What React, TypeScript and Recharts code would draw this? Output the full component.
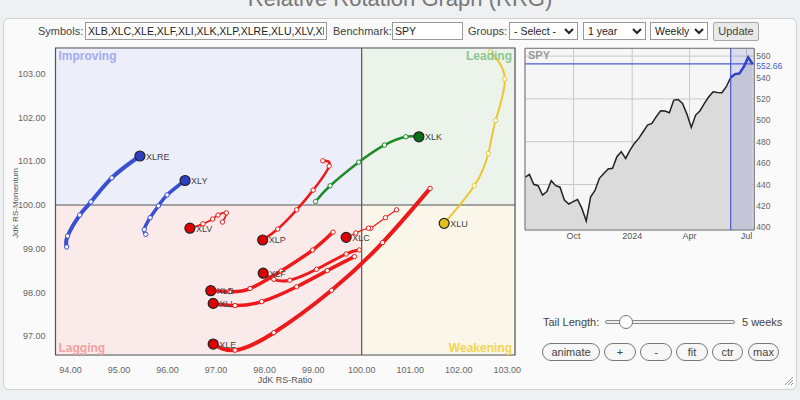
import React from 'react'
import {
  Area,
  CartesianGrid,
  ComposedChart,
  Line,
  ReferenceArea,
  ReferenceLine,
  Scatter,
  ScatterChart,
  XAxis,
  YAxis,
} from 'recharts'

const ratioTicks = [94, 95, 96, 97, 98, 99, 100, 101, 102, 103]
const momentumTicks = [97, 98, 99, 100, 101, 102, 103]

// tails: [RS-Ratio, RS-Momentum], oldest week first, last one is the current week
const xlre = [[93.92, 99.04], [93.94, 99.29], [94.19, 99.77], [94.42, 100.07], [94.85, 100.62], [95.43, 101.12]]
const xly = [[95.55, 99.33], [95.52, 99.44], [95.64, 99.71], [95.81, 99.98], [95.99, 100.23], [96.36, 100.56]]
const xlk = [[99.05, 100.08], [99.35, 100.44], [99.94, 100.98], [100.47, 101.37], [100.91, 101.56], [101.18, 101.56]]
const xlu = [[102.65, 103.5], [102.95, 102.88], [102.76, 101.93], [102.61, 101.18], [102.32, 100.44], [101.7, 99.58]]
const xlc = [[100.72, 99.89], [100.49, 99.71], [100.19, 99.47], [100.14, 99.47], [99.88, 99.36], [99.68, 99.26]]
const xlv = [[97.13, 99.61], [97.21, 99.82], [97.04, 99.77], [96.93, 99.68], [96.73, 99.57], [96.46, 99.47]]
const xlp = [[99.2, 101.01], [99.33, 100.89], [99.0, 100.34], [98.66, 99.89], [98.27, 99.45], [97.96, 99.2]]
const xle = [[101.41, 100.38], [100.43, 99.14], [99.38, 98.05], [98.19, 97.08], [97.39, 96.68], [96.94, 96.82]]
const xli = [[99.85, 98.82], [99.29, 98.5], [98.66, 98.13], [97.94, 97.79], [97.39, 97.7], [96.94, 97.75]]
const xlb = [[99.41, 99.38], [98.99, 98.97], [98.34, 98.49], [97.7, 98.09], [97.28, 98.02], [96.89, 98.04]]
const xlf = [[99.95, 98.97], [99.68, 98.88], [99.07, 98.53], [98.52, 98.28], [98.19, 98.3], [97.97, 98.44]]

const BLUE = { line: '#3a50d4', head: '#2b40c2' }
const GREEN = { line: '#1f8a28', head: '#0d6e14' }
const YELLOW = { line: '#ebc631', head: '#e2c01e' }
const RED = { line: '#ec1a1a', head: '#de0000' }

const sectors = [
  { name: 'XLRE', tail: xlre, c: BLUE, w: 4 },
  { name: 'XLY', tail: xly, c: BLUE, w: 3.5 },
  { name: 'XLK', tail: xlk, c: GREEN, w: 2.5 },
  { name: 'XLU', tail: xlu, c: YELLOW, w: 2 },
  { name: 'XLC', tail: xlc, c: RED, w: 1.2 },
  { name: 'XLV', tail: xlv, c: RED, w: 1.8 },
  { name: 'XLP', tail: xlp, c: RED, w: 2.5 },
  { name: 'XLE', tail: xle, c: RED, w: 4 },
  { name: 'XLI', tail: xli, c: RED, w: 3.5 },
  { name: 'XLB', tail: xlb, c: RED, w: 3.5 },
  { name: 'XLF', tail: xlf, c: RED, w: 3 },
]

// SPY weekly closes, Jul 2023 - Jul 2024
const spyClose = [
  446.7, 449.5, 440.2, 438.9, 430.2, 433.5, 443.6, 438.9, 437.5, 425.5, 421.8, 424.0, 426.0, 417.7,
  405.9, 428.6, 434.5, 445.8, 450.4, 454.5, 455.1, 466.0, 470.7, 464.4, 472.2, 478.4, 483.1, 489.3,
  495.6, 497.1, 503.4, 509.0, 508.7, 507.1, 518.9, 519.5, 515.8, 505.8, 493.4, 504.9, 509.0, 515.8,
  522.0, 526.7, 526.1, 525.8, 531.4, 540.1, 543.2, 543.8, 550.0, 558.8, 552.66,
]
const spyTickIdx = [11.1, 24.5, 37.6, 50.6]
const spyTickLabels = ['Oct', '2024', 'Apr', 'Jul']
const spyPriceTicks = [400, 420, 440, 460, 480, 500, 520, 540, 560]
const tailStart = 47
const lastClose = 552.66

const X_MIN = 93.69
const X_MAX = 103.16
const Y_MIN = 96.57
const Y_MAX = 103.59

function TailDot(props: any) {
  const { cx, cy, payload, color, name } = props
  if (payload.head) {
    return (
      <g>
        <circle cx={cx} cy={cy} r={5} fill={color.head} stroke="#222" strokeWidth={1.2} />
        <text x={cx + 6} y={cy + 3.5} fontSize={9} fill="#444">
          {name}
        </text>
      </g>
    )
  }
  return <circle cx={cx} cy={cy} r={2.2} fill="#fff" stroke={color.line} strokeWidth={1} />
}

const quadLabel = (value: string, fill: string, position: any) => ({
  value,
  position,
  offset: 3,
  fill,
  fontSize: 12,
  fontWeight: 'bold',
})

function RRG() {
  return (
    <ScatterChart width={530} height={400} margin={{ top: 48, right: 15, bottom: 15, left: 15.5 }}>
      <ReferenceArea x1={X_MIN} x2={100} y1={100} y2={Y_MAX} fill="#eceefa" fillOpacity={1}
        label={quadLabel('Improving', '#a3acec', 'insideTopLeft')} />
      <ReferenceArea x1={100} x2={X_MAX} y1={100} y2={Y_MAX} fill="#ebf3ea" fillOpacity={1}
        label={quadLabel('Leading', '#8fc68f', 'insideTopRight')} />
      <ReferenceArea x1={X_MIN} x2={100} y1={Y_MIN} y2={100} fill="#fbeaea" fillOpacity={1}
        label={quadLabel('Lagging', '#f2a0a0', 'insideBottomLeft')} />
      <ReferenceArea x1={100} x2={X_MAX} y1={Y_MIN} y2={100} fill="#faf6ea" fillOpacity={1}
        label={quadLabel('Weakening', '#f3d453', 'insideBottomRight')} />
      <CartesianGrid stroke="#d9d9d9" />
      <XAxis type="number" dataKey="x" domain={[X_MIN, X_MAX]} ticks={ratioTicks} allowDataOverflow
        tickFormatter={(v) => v.toFixed(2)} tick={{ fontSize: 9, fill: '#666' }} tickLine={false}
        axisLine={false} tickSize={0} tickMargin={12} height={30}
        label={{ content: () => <text x={285} y={383} textAnchor="middle" fontSize={9} fill="#555">JdK RS-Ratio</text> }} />
      <YAxis type="number" dataKey="y" domain={[Y_MIN, Y_MAX]} ticks={momentumTicks} allowDataOverflow
        tickFormatter={(v) => v.toFixed(2)} tick={{ fontSize: 9, fill: '#666' }} tickLine={false}
        axisLine={false} tickSize={0} tickMargin={10} width={40}
        label={{ content: () => (
          <text x={15} y={203} transform="rotate(-90 15 203)" textAnchor="middle" dominantBaseline="central" fontSize={8} fill="#555">
            JdK RS-Momentum
          </text>
        ) }} />
      <ReferenceLine x={100} stroke="#555" strokeWidth={1.2} />
      <ReferenceLine y={100} stroke="#555" strokeWidth={1.2} />
      <ReferenceArea x1={X_MIN} x2={X_MAX} y1={Y_MIN} y2={Y_MAX} fill="none" stroke="#555" strokeWidth={1.2} />
      {sectors.map((s) => (
        <Scatter
          key={s.name}
          data={s.tail.map(([x, y], i) => ({ x, y, head: i === s.tail.length - 1 }))}
          line={{ stroke: s.c.line, strokeWidth: s.w }}
          lineJointType="natural"
          shape={(p: any) => <TailDot {...p} color={s.c} name={s.name} />}
          isAnimationActive={false}
        />
      ))}
    </ScatterChart>
  )
}

function SpyChart() {
  const data = spyClose.map((v, i) => ({ i, v, tail: i >= tailStart ? v : null }))
  return (
    <ComposedChart width={285} height={210} data={data} margin={{ top: 8.3, right: 15.7, bottom: 6, left: 10 }}>
      <CartesianGrid stroke="#c9c9c9" fill="#f6f6f6" />
      <XAxis type="number" dataKey="i" domain={[0, 52.4]} ticks={spyTickIdx} allowDataOverflow
        tickFormatter={(v) => spyTickLabels[spyTickIdx.indexOf(v)]} tick={{ fontSize: 9, fill: '#555' }}
        tickLine={false} axisLine={false} tickSize={0} tickMargin={3} height={14} />
      <YAxis orientation="right" type="number" domain={[397.5, 567.3]} ticks={spyPriceTicks} allowDataOverflow
        tick={{ fontSize: 8.5, fill: '#666', textAnchor: 'start' }} tickLine={false} axisLine={false}
        tickSize={0} tickMargin={2} width={30} />
      <Area dataKey="v" stroke="#222" strokeWidth={1.5} fill="#dbdbdb" fillOpacity={1} dot={false}
        isAnimationActive={false} />
      <ReferenceArea x1={tailStart} x2={52.4} y1={397.5} y2={567.3} fill="#3848c0" fillOpacity={0.14} />
      <ReferenceLine x={tailStart} stroke="#4a5ad2" strokeWidth={1.2} />
      <ReferenceLine y={lastClose} stroke="#4a5ad2" strokeWidth={1.2}
        label={{ content: (p: any) => (
          <text x={p.viewBox.x + p.viewBox.width + 2} y={p.viewBox.y + 5} fontSize={8.5} fill="#4a5ad2">
            {lastClose.toFixed(2)}
          </text>
        ) }} />
      <Line dataKey="tail" stroke="#3344cc" strokeWidth={2.5} dot={false} isAnimationActive={false} />
      <ReferenceArea x1={0} x2={52.4} y1={397.5} y2={567.3} fill="none" stroke="#777" strokeWidth={1} />
    </ComposedChart>
  )
}

const label: React.CSSProperties = { position: 'absolute', top: 25, fontSize: 11, color: '#444' }
const box: React.CSSProperties = {
  position: 'absolute', top: 22, height: 18, boxSizing: 'border-box', border: '1px solid #9a9a9a',
  background: '#fff', fontSize: 10.5, fontFamily: 'inherit', padding: '0 2px', color: '#222',
}
const pill: React.CSSProperties = {
  position: 'absolute', top: 343, height: 18, boxSizing: 'border-box', border: '1px solid #777',
  borderRadius: 9, background: '#f7f7f7', fontSize: 11, color: '#444', textAlign: 'center', lineHeight: '16px',
}

export default function App() {
  return (
    <div style={{ position: 'absolute', left: 0, top: 0, width: 800, height: 400, overflow: 'hidden',
      background: '#eef0f2', fontFamily: 'Arial, "Liberation Sans", sans-serif' }}>
      <div style={{ position: 'absolute', left: 0, top: -14, width: 800, textAlign: 'center', fontSize: 22, color: '#777' }}>
        Relative Rotation Graph (RRG)
      </div>
      <div style={{ position: 'absolute', left: 3, top: 18, width: 794, height: 372, boxSizing: 'border-box',
        background: '#fafafa', border: '1px solid #d2d2d2', borderRadius: 6 }} />

      <div style={{ ...label, left: 38 }}>Symbols:</div>
      <input readOnly value="XLB,XLC,XLE,XLF,XLI,XLK,XLP,XLRE,XLU,XLV,XLY" style={{ ...box, left: 85, width: 242 }} />
      <div style={{ ...label, left: 333 }}>Benchmark:</div>
      <input readOnly value="SPY" style={{ ...box, left: 392, width: 71 }} />
      <div style={{ ...label, left: 468 }}>Groups:</div>
      <select defaultValue="s" style={{ ...box, left: 509, width: 69, padding: 0 }}><option value="s">- Select -</option></select>
      <select defaultValue="y" style={{ ...box, left: 583, width: 63, padding: 0 }}><option value="y">1 year</option></select>
      <select defaultValue="w" style={{ ...box, left: 650, width: 58, padding: 0 }}><option value="w">Weekly</option></select>
      <div style={{ position: 'absolute', left: 713, top: 22, width: 46, height: 19, boxSizing: 'border-box',
        border: '1px solid #a8a8a8', borderRadius: 2, background: '#e9e9e9', fontSize: 11, color: '#444',
        textAlign: 'center', lineHeight: '17px' }}>Update</div>

      <div style={{ position: 'absolute', left: 0, top: 0 }}>
        <RRG />
      </div>
      <div style={{ position: 'absolute', left: 515, top: 40 }}>
        <SpyChart />
      </div>
      <div style={{ position: 'absolute', left: 528, top: 49, fontSize: 11, fontWeight: 'bold', color: '#999' }}>SPY</div>

      <div style={{ position: 'absolute', left: 543, top: 316, fontSize: 11, color: '#444' }}>Tail Length:</div>
      <div style={{ position: 'absolute', left: 605, top: 320, width: 130, height: 4, boxSizing: 'border-box',
        border: '1px solid #888', borderRadius: 2, background: '#eee' }} />
      <div style={{ position: 'absolute', left: 619, top: 315, width: 14, height: 14, boxSizing: 'border-box',
        border: '1px solid #777', borderRadius: '50%', background: '#fff' }} />
      <div style={{ position: 'absolute', left: 742, top: 316, fontSize: 11, color: '#444' }}>5 weeks</div>

      <div style={{ ...pill, left: 542, width: 58 }}>animate</div>
      <div style={{ ...pill, left: 604, width: 32 }}>+</div>
      <div style={{ ...pill, left: 640, width: 32 }}>-</div>
      <div style={{ ...pill, left: 676, width: 32 }}>fit</div>
      <div style={{ ...pill, left: 712, width: 31 }}>ctr</div>
      <div style={{ ...pill, left: 748, width: 31 }}>max</div>

      <svg style={{ position: 'absolute', left: 784, top: 376 }} width={10} height={10}>
        <line x1={9} y1={1} x2={1} y2={9} stroke="#999" />
        <line x1={9} y1={4} x2={4} y2={9} stroke="#999" />
        <line x1={9} y1={7} x2={7} y2={9} stroke="#999" />
      </svg>
    </div>
  )
}
